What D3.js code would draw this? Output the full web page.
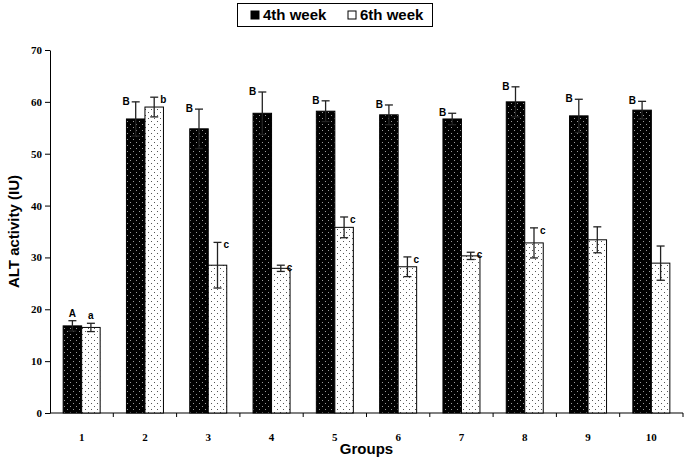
<!DOCTYPE html>
<html><head><meta charset="utf-8">
<script src="https://cdn.jsdelivr.net/npm/d3@7"></script>
<style>body{margin:0;background:#fff}svg{display:block}</style>
</head><body>
<script>
const groups = ["1","2","3","4","5","6","7","8","9","10"];
const week4 = [16.8,56.7,54.8,57.8,58.2,57.5,56.7,60.0,57.3,58.4];
const week4Err = [1.0,3.3,3.8,4.1,2.0,1.9,1.1,2.9,3.2,1.7];
const week6 = [16.5,59.0,28.5,27.9,35.8,28.2,30.3,32.8,33.4,28.9];
const week6Err = [0.8,1.9,4.4,0.6,2.0,1.9,0.7,2.9,2.5,3.3];
const week4Letters = ["A","B","B","B","B","B","B","B","B","B"];
const week6Letters = ["a","b","c","c","c","c","c","c","",""];
const seriesNames = ["4th week","6th week"];
const yTicks = [0,10,20,30,40,50,60,70];

(function(){
const W=686,H=459;
const svg=d3.select("body").append("svg").attr("width",W).attr("height",H);
const defs=svg.append("defs");
function pat(id,bg,dot){
  const p=defs.append("pattern").attr("id",id).attr("patternUnits","userSpaceOnUse").attr("width",6).attr("height",6);
  p.append("rect").attr("width",6).attr("height",6).attr("fill",bg);
  p.append("rect").attr("x",1).attr("y",1).attr("width",1).attr("height",1).attr("fill",dot);
  p.append("rect").attr("x",4).attr("y",4).attr("width",1).attr("height",1).attr("fill",dot);
}
pat("pBlack","#000","#9a9a9a");
pat("pWhite","#fff","#555");

const mL=50,mR=683,mT=50,mB=413;
const x=d3.scaleBand().domain(groups).range([mL,mR]).paddingInner(0).paddingOuter(0);
const bw=18.5;
const y=d3.scaleLinear().domain([0,70]).range([mB,mT]);

const ya=svg.append("g").attr("transform",`translate(${mL},0)`)
  .call(d3.axisLeft(y).tickValues(yTicks).tickSize(5).tickSizeOuter(0));
ya.select(".domain").attr("stroke","#000");
ya.selectAll("text").attr("font-family","Liberation Serif").attr("font-weight","bold").attr("font-size",11).attr("fill","#000").attr("x",-8);

const xa=svg.append("g").attr("transform",`translate(0,${mB})`)
  .call(d3.axisBottom(x).tickSize(0).tickSizeOuter(0));
xa.select(".domain").remove();
xa.selectAll("text").attr("font-family","Liberation Serif").attr("font-weight","bold").attr("font-size",11).attr("fill","#000").attr("dy","2.3em");
svg.append("line").attr("x1",mL).attr("x2",mR).attr("y1",mB).attr("y2",mB).attr("stroke","#000");
svg.append("g").selectAll("line").data(groups.slice(1).concat(["end"])).join("line")
  .attr("x1",d=>d==="end"?mR:x(d)).attr("x2",d=>d==="end"?mR:x(d))
  .attr("y1",mB).attr("y2",mB+4).attr("stroke","#000");

const data=groups.map((g,i)=>({g,i}));
svg.append("g").selectAll("rect").data(data).join("rect")
  .attr("x",d=>x(d.g)+x.bandwidth()/2-bw).attr("width",bw)
  .attr("y",d=>y(week4[d.i])).attr("height",d=>mB-y(week4[d.i]))
  .attr("fill","url(#pBlack)").attr("stroke","#000").attr("stroke-width",1);
svg.append("g").selectAll("rect").data(data).join("rect")
  .attr("x",d=>x(d.g)+x.bandwidth()/2).attr("width",bw)
  .attr("y",d=>y(week6[d.i])).attr("height",d=>mB-y(week6[d.i]))
  .attr("fill","url(#pWhite)").attr("stroke","#000").attr("stroke-width",1);

function err(vals,errs,off,color){
  const g=svg.append("g");
  data.forEach(d=>{
    const cx=x(d.g)+x.bandwidth()/2+off;
    const v=vals[d.i],e=errs[d.i];
    g.append("line").attr("x1",cx).attr("x2",cx).attr("y1",y(v-e)).attr("y2",y(v+e)).attr("stroke",color).attr("stroke-width",1.3);
    g.append("line").attr("x1",cx-4).attr("x2",cx+4).attr("y1",y(v+e)).attr("y2",y(v+e)).attr("stroke",color).attr("stroke-width",1.3);
    g.append("line").attr("x1",cx-4).attr("x2",cx+4).attr("y1",y(v-e)).attr("y2",y(v-e)).attr("stroke",color).attr("stroke-width",1.3);
  });
}
err(week4,week4Err,-bw/2,"#222");
err(week6,week6Err,bw/2,"#222");

const lt=svg.append("g").attr("font-family","Liberation Sans").attr("font-weight","bold").attr("font-size",10).attr("fill","#000");
data.forEach(d=>{
  const c4=x(d.g)+x.bandwidth()/2-bw/2, c6=x(d.g)+x.bandwidth()/2+bw/2;
  const t4=y(week4[d.i]+week4Err[d.i]), t6=y(week6[d.i]+week6Err[d.i]);
  if(d.i===0){
    lt.append("text").attr("x",c4).attr("y",t4-4).attr("text-anchor","middle").text(week4Letters[d.i]);
    lt.append("text").attr("x",c6).attr("y",t6-4).attr("text-anchor","middle").text(week6Letters[d.i]);
  } else {
    lt.append("text").attr("x",c4-6).attr("y",t4+3).attr("text-anchor","end").text(week4Letters[d.i]);
    if(week6Letters[d.i]) lt.append("text").attr("x",c6+6).attr("y",t6+6).attr("text-anchor","start").text(week6Letters[d.i]);
  }
});

svg.append("text").attr("transform",`translate(19,${(mT+mB)/2}) rotate(-90)`).attr("text-anchor","middle")
  .attr("font-family","Liberation Sans").attr("font-weight","bold").attr("font-size",15).text("ALT activity (IU)");
svg.append("text").attr("x",(mL+mR)/2).attr("y",454).attr("text-anchor","middle")
  .attr("font-family","Liberation Sans").attr("font-weight","bold").attr("font-size",15).text("Groups");

const lg=svg.append("g");
lg.append("rect").attr("x",237.5).attr("y",3.5).attr("width",195).attr("height",23).attr("fill","#fff").attr("stroke","#000");
const lx=[251,348];
seriesNames.forEach((n,i)=>{
  lg.append("rect").attr("x",lx[i]).attr("y",11).attr("width",8).attr("height",8)
    .attr("fill",i===0?"#000":"#fff").attr("stroke","#000");
  lg.append("text").attr("x",lx[i]+12).attr("y",20).attr("font-family","Liberation Sans").attr("font-weight","bold").attr("font-size",15).text(n);
});
})();
</script>
</body></html>
